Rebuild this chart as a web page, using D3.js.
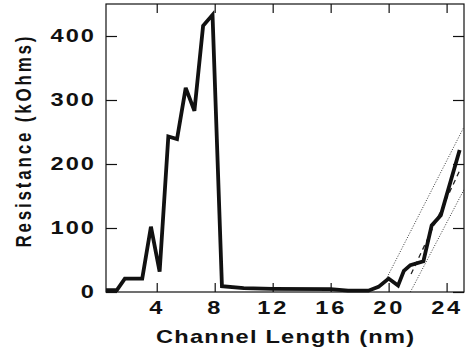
<!DOCTYPE html>
<html>
<head>
<meta charset="utf-8">
<script src="https://cdn.jsdelivr.net/npm/d3@7"></script>
<style>
  body { margin: 0; background: #fff; }
  text { font-family: "Liberation Sans", Arial, sans-serif; font-weight: bold; fill: #111; }
</style>
</head>
<body>
<svg id="chart" width="467" height="350"></svg>
<script>
var lengthNm = [0.5, 1.25, 1.8, 3.0, 3.6, 4.2, 4.8, 5.4, 6.0, 6.6, 7.2, 7.85, 8.5, 10, 12, 16, 17.2, 18.6, 19.3, 20.0, 20.65, 21.05, 21.5, 22.4, 22.97, 23.6, 24.9];
var resistance = [3, 3, 21, 21, 102, 32, 243, 239, 319, 283, 416, 433, 9, 6, 5, 4.5, 2, 2, 8, 21, 10, 33, 42, 48, 104, 120, 222];

// Linear fit (dashed) and its bounds (dotted)
var fitLine = [[21.55, 28], [24.95, 192]];
var upperBound = [[19.65, 12], [25.2, 258]];
var lowerBound = [[21.5, 0], [25.2, 160]];

var xTicks = [4, 8, 12, 16, 20, 24];
var yTicks = [0, 100, 200, 300, 400];

var xTitle = "Channel Length (nm)";
var yTitle = "Resistance (kOhms)";

// Layout
var margin = {top: 4, left: 106, right: 3, bottom: 58};
var width = 467 - margin.left - margin.right;
var height = 350 - margin.top - margin.bottom;
var stretch = 1.35; // the figure's text is wider than normal

var x = d3.scaleLinear().domain([0.5, 25.2]).range([0, width]);
var y = d3.scaleLinear().domain([0, 450]).range([height, 0]);

var svg = d3.select("#chart")
    .append("g")
    .attr("transform", `translate(${margin.left}, ${margin.top})`);

// Clip the fit lines to the plot area
svg.append("clipPath").attr("id", "plot-clip")
    .append("rect").attr("width", width).attr("height", height);

// Inward ticks on all four sides
var bottomAxis = svg.append("g")
    .attr("transform", `translate(0, ${height})`)
    .call(d3.axisBottom(x).tickValues(xTicks).tickSize(-9).tickSizeOuter(0));
var topAxis = svg.append("g")
    .call(d3.axisTop(x).tickValues(xTicks).tickSize(-9).tickSizeOuter(0).tickFormat(""));
var leftAxis = svg.append("g")
    .call(d3.axisLeft(y).tickValues(yTicks).tickSize(-11).tickSizeOuter(0));
var rightAxis = svg.append("g")
    .attr("transform", `translate(${width}, 0)`)
    .call(d3.axisRight(y).tickValues(yTicks).tickSize(-11).tickSizeOuter(0).tickFormat(""));

svg.selectAll(".domain").remove();
svg.selectAll(".tick line").attr("stroke", "#111").attr("stroke-width", 1.2);

bottomAxis.selectAll("text")
    .attr("y", 0).attr("dy", 0)
    .attr("transform", `translate(0, 22) scale(${stretch}, 1)`)
    .style("font-size", "17.5px")
    .style("letter-spacing", "2px");

leftAxis.selectAll("text")
    .attr("x", 0).attr("dy", 0)
    .attr("transform", `translate(-10, 5) scale(${stretch}, 1)`)
    .attr("text-anchor", "end")
    .style("font-size", "17.5px")
    .style("letter-spacing", "1.5px");

svg.selectAll(".tick text").attr("fill", "#111").attr("font-family", null).attr("font-size", null);

// Frame
svg.append("rect")
    .attr("width", width)
    .attr("height", height)
    .attr("fill", "none")
    .attr("stroke", "#111")
    .attr("stroke-width", 1.2);

var line = d3.line()
    .x(function(d) { return x(d[0]); })
    .y(function(d) { return y(d[1]); });

var fits = svg.append("g").attr("clip-path", "url(#plot-clip)");

fits.append("path")
    .attr("d", line(upperBound))
    .attr("fill", "none").attr("stroke", "#222")
    .attr("stroke-width", 0.9).attr("stroke-dasharray", "1,1.6");

fits.append("path")
    .attr("d", line(lowerBound))
    .attr("fill", "none").attr("stroke", "#222")
    .attr("stroke-width", 0.9).attr("stroke-dasharray", "1,1.6");

fits.append("path")
    .attr("d", line(fitLine))
    .attr("fill", "none").attr("stroke", "#222")
    .attr("stroke-width", 1.3).attr("stroke-dasharray", "5,4");

// Main data line
var points = lengthNm.map(function(d, i) { return [d, resistance[i]]; });
svg.append("path")
    .attr("d", line(points))
    .attr("fill", "none")
    .attr("stroke", "#111")
    .attr("stroke-width", 3.8)
    .attr("stroke-linejoin", "miter")
    .attr("stroke-miterlimit", 3);

// Axis titles
svg.append("text")
    .attr("transform", `translate(${width / 2}, ${height + 51}) scale(${stretch}, 1)`)
    .attr("text-anchor", "middle")
    .attr("textLength", 258 / stretch)
    .attr("lengthAdjust", "spacing")
    .style("font-size", "17.5px")
    .text(xTitle);

svg.append("text")
    .attr("transform", `translate(${31 - margin.left}, ${142 - margin.top}) rotate(-90) scale(1, ${stretch})`)
    .attr("text-anchor", "middle")
    .attr("textLength", 211)
    .attr("lengthAdjust", "spacing")
    .style("font-size", "17px")
    .text(yTitle);
</script>
</body>
</html>
